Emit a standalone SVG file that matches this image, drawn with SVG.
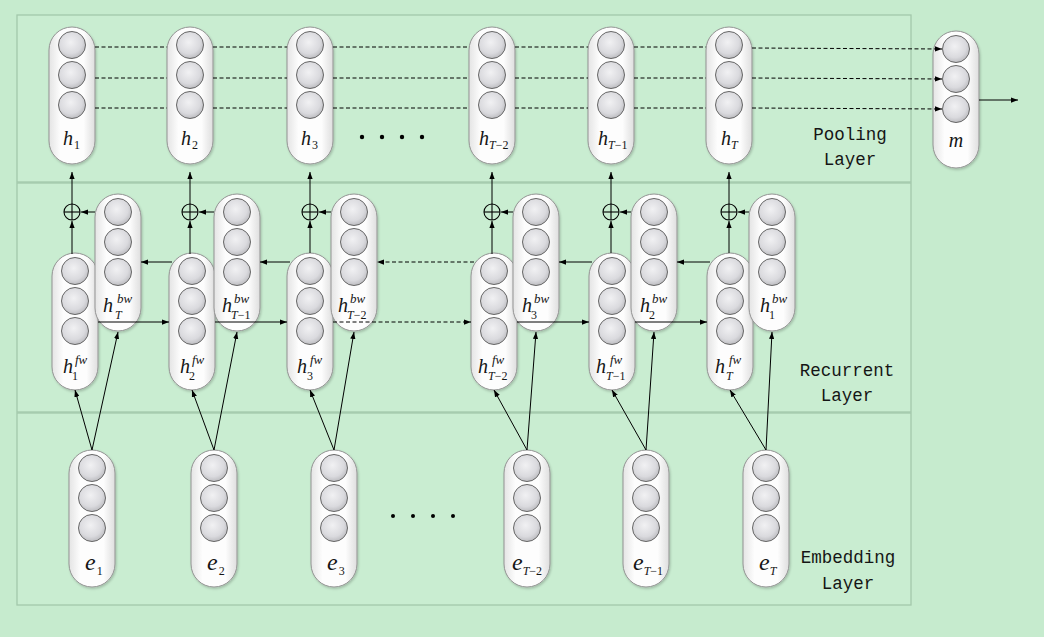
<svg xmlns="http://www.w3.org/2000/svg" width="1044" height="637" viewBox="0 0 1044 637">
<defs>
<style>
.panel{fill:#c9edd1;stroke:#a3c8ab;stroke-width:1.3}
.conn line{stroke:#000;stroke-width:1;fill:none}
.conn .dash{stroke-dasharray:4 2.5}
.arr{marker-end:url(#ah)}
.lab{font-family:"Liberation Serif","Times New Roman",serif;font-style:italic;font-size:20px;fill:#151515}
.sub{font-style:normal;font-size:12px}
.it{font-style:italic}
.sup{font-family:"Liberation Serif","Times New Roman",serif;font-style:italic;font-size:13px;fill:#151515}
.sb{font-family:"Liberation Serif","Times New Roman",serif;font-size:12px;fill:#151515}
.el{font-size:24px}
.layer{font-family:"Liberation Mono","Courier New",monospace;font-size:17.5px;text-anchor:middle;fill:#151515}
.op circle{fill:none;stroke:#000;stroke-width:1.1}
.op line{stroke:#000;stroke-width:1.1}
.dot{fill:#000}
</style>
<linearGradient id="capg" x1="0" y1="0" x2="1" y2="0">
<stop offset="0" stop-color="#e4e4e4"/>
<stop offset="0.25" stop-color="#fdfdfd"/>
<stop offset="0.75" stop-color="#fdfdfd"/>
<stop offset="1" stop-color="#dedede"/>
</linearGradient>
<radialGradient id="ball" cx="0.45" cy="0.4" r="0.6">
<stop offset="0" stop-color="#f1f1f3"/>
<stop offset="0.7" stop-color="#dadade"/>
<stop offset="1" stop-color="#bdbdc1"/>
</radialGradient>
<filter id="sh" x="-20%" y="-10%" width="140%" height="120%">
<feDropShadow dx="1" dy="1.5" stdDeviation="1" flood-color="#000" flood-opacity="0.2"/>
</filter>
<marker id="ah" viewBox="0 0 8 6" refX="8" refY="3" markerWidth="7" markerHeight="5.5" markerUnits="userSpaceOnUse" orient="auto">
<path d="M0,0 L8,3 L0,6 z" fill="#000"/>
</marker>
<g id="cell">
<rect x="-23" y="0" width="46" height="137" rx="23" fill="url(#capg)" stroke="#939393" stroke-width="1" filter="url(#sh)"/>
<circle cx="0" cy="18" r="13.5" fill="url(#ball)" stroke="#666"/>
<circle cx="0" cy="48" r="13.5" fill="url(#ball)" stroke="#666"/>
<circle cx="0" cy="78" r="13.5" fill="url(#ball)" stroke="#666"/>
</g>
</defs>

<rect width="1044" height="637" fill="#c6ebce"/>

<g id="panels">
<rect class="panel" x="17" y="15" width="894" height="167"/>
<rect class="panel" x="17" y="183" width="894" height="229"/>
<rect class="panel" x="17" y="413" width="894" height="192"/>
<text class="layer" x="850" y="140">Pooling</text>
<text class="layer" x="850" y="165">Layer</text>
<text class="layer" x="847" y="376">Recurrent</text>
<text class="layer" x="847" y="401">Layer</text>
<text class="layer" x="848" y="563">Embedding</text>
<text class="layer" x="848" y="589">Layer</text>
</g>

<!-- Pooling layer -->
<g id="pool-h1"><use href="#cell" x="72" y="27"/><text class="lab" x="63" y="145">h<tspan class="sub" dy="4" dx="1">1</tspan></text></g>
<g id="pool-h2"><use href="#cell" x="190" y="27"/><text class="lab" x="181" y="145">h<tspan class="sub" dy="4" dx="1">2</tspan></text></g>
<g id="pool-h3"><use href="#cell" x="310" y="27"/><text class="lab" x="301" y="145">h<tspan class="sub" dy="4" dx="1">3</tspan></text></g>
<g id="pool-hT-2"><use href="#cell" x="492" y="27"/><text class="lab" x="479" y="145">h<tspan class="sub" dy="4"><tspan class="it">T</tspan>−2</tspan></text></g>
<g id="pool-hT-1"><use href="#cell" x="611" y="27"/><text class="lab" x="598" y="145">h<tspan class="sub" dy="4"><tspan class="it">T</tspan>−1</tspan></text></g>
<g id="pool-hT"><use href="#cell" x="729" y="27"/><text class="lab" x="721" y="145">h<tspan class="sub it" dy="4">T</tspan></text></g>
<g id="pool-m"><use href="#cell" x="956" y="31"/><text class="lab" x="956" y="147" font-size="22" text-anchor="middle">m</text></g>
<g id="pool-dots"><circle class="dot" cx="362" cy="137" r="2.2"/><circle class="dot" cx="382" cy="137" r="2.2"/><circle class="dot" cx="402" cy="137" r="2.2"/><circle class="dot" cx="422" cy="137" r="2.2"/></g>

<!-- Recurrent layer: forward cells -->
<g id="fw-1"><use href="#cell" x="75" y="253"/><text class="lab" x="63" y="373">h</text><text class="sup" x="75" y="364">fw</text><text class="sb" x="72" y="380">1</text></g>
<g id="fw-2"><use href="#cell" x="192" y="253"/><text class="lab" x="180" y="373">h</text><text class="sup" x="192" y="364">fw</text><text class="sb" x="189" y="380">2</text></g>
<g id="fw-3"><use href="#cell" x="310" y="253"/><text class="lab" x="297" y="373">h</text><text class="sup" x="310" y="364">fw</text><text class="sb" x="307" y="380">3</text></g>
<g id="fw-T-2"><use href="#cell" x="494" y="253"/><text class="lab" x="478" y="373">h</text><text class="sup" x="492" y="364">fw</text><text class="sb" x="488" y="380"><tspan class="it">T</tspan>−2</text></g>
<g id="fw-T-1"><use href="#cell" x="612" y="253"/><text class="lab" x="596" y="373">h</text><text class="sup" x="610" y="364">fw</text><text class="sb" x="606" y="380"><tspan class="it">T</tspan>−1</text></g>
<g id="fw-T"><use href="#cell" x="730" y="253"/><text class="lab" x="715" y="373">h</text><text class="sup" x="729" y="364">fw</text><text class="sb it" x="726" y="380">T</text></g>

<!-- Recurrent layer: backward cells -->
<g id="bw-T"><use href="#cell" x="118" y="194"/><text class="lab" x="103" y="312">h</text><text class="sup" x="117" y="303">bw</text><text class="sb it" x="115" y="319">T</text></g>
<g id="bw-T-1"><use href="#cell" x="237" y="194"/><text class="lab" x="222" y="312">h</text><text class="sup" x="234" y="303">bw</text><text class="sb" x="231" y="319"><tspan class="it">T</tspan>−1</text></g>
<g id="bw-T-2"><use href="#cell" x="354" y="194"/><text class="lab" x="338" y="312">h</text><text class="sup" x="350" y="303">bw</text><text class="sb" x="347" y="319"><tspan class="it">T</tspan>−2</text></g>
<g id="bw-3"><use href="#cell" x="536" y="194"/><text class="lab" x="522" y="312">h</text><text class="sup" x="534" y="303">bw</text><text class="sb" x="531" y="319">3</text></g>
<g id="bw-2"><use href="#cell" x="654" y="194"/><text class="lab" x="640" y="312">h</text><text class="sup" x="652" y="303">bw</text><text class="sb" x="649" y="319">2</text></g>
<g id="bw-1"><use href="#cell" x="772" y="194"/><text class="lab" x="760" y="312">h</text><text class="sup" x="772" y="303">bw</text><text class="sb" x="769" y="319">1</text></g>

<!-- Sum operators -->
<g id="op-1" class="op"><circle cx="72" cy="212" r="8"/><line x1="64" y1="212" x2="80" y2="212"/><line x1="72" y1="204" x2="72" y2="220"/></g>
<g id="op-2" class="op"><circle cx="190" cy="212" r="8"/><line x1="182" y1="212" x2="198" y2="212"/><line x1="190" y1="204" x2="190" y2="220"/></g>
<g id="op-3" class="op"><circle cx="310" cy="212" r="8"/><line x1="302" y1="212" x2="318" y2="212"/><line x1="310" y1="204" x2="310" y2="220"/></g>
<g id="op-T-2" class="op"><circle cx="492" cy="212" r="8"/><line x1="484" y1="212" x2="500" y2="212"/><line x1="492" y1="204" x2="492" y2="220"/></g>
<g id="op-T-1" class="op"><circle cx="611" cy="212" r="8"/><line x1="603" y1="212" x2="619" y2="212"/><line x1="611" y1="204" x2="611" y2="220"/></g>
<g id="op-T" class="op"><circle cx="729" cy="212" r="8"/><line x1="721" y1="212" x2="737" y2="212"/><line x1="729" y1="204" x2="729" y2="220"/></g>

<!-- Embedding layer -->
<g id="emb-1"><use href="#cell" x="92" y="450"/><text class="lab el" x="85" y="570">e<tspan class="sub" dy="5" dx="1" font-size="13">1</tspan></text></g>
<g id="emb-2"><use href="#cell" x="214" y="450"/><text class="lab el" x="207" y="570">e<tspan class="sub" dy="5" dx="1" font-size="13">2</tspan></text></g>
<g id="emb-3"><use href="#cell" x="334" y="450"/><text class="lab el" x="327" y="570">e<tspan class="sub" dy="5" dx="1" font-size="13">3</tspan></text></g>
<g id="emb-T-2"><use href="#cell" x="527" y="450"/><text class="lab el" x="512" y="570">e<tspan class="sub" dy="5" font-size="13"><tspan class="it">T</tspan>−2</tspan></text></g>
<g id="emb-T-1"><use href="#cell" x="646" y="450"/><text class="lab el" x="633" y="570">e<tspan class="sub" dy="5" font-size="13"><tspan class="it">T</tspan>−1</tspan></text></g>
<g id="emb-T"><use href="#cell" x="766" y="450"/><text class="lab el" x="759" y="570">e<tspan class="sub it" dy="5" font-size="13">T</tspan></text></g>
<g id="emb-dots"><circle class="dot" cx="393" cy="516" r="2"/><circle class="dot" cx="413" cy="516" r="2"/><circle class="dot" cx="433" cy="516" r="2"/><circle class="dot" cx="453" cy="516" r="2"/></g>

<g id="connectors" class="conn">
<!-- pooling dashed lines -->
<line class="dash" x1="95" y1="47" x2="167" y2="47"/><line class="dash" x1="213" y1="47" x2="287" y2="47"/><line class="dash" x1="333" y1="47" x2="469" y2="47"/><line class="dash" x1="515" y1="47" x2="588" y2="47"/><line class="dash" x1="634" y1="47" x2="706" y2="47"/><line class="dash arr" x1="752" y1="48" x2="942" y2="49"/>
<line class="dash" x1="95" y1="78" x2="167" y2="78"/><line class="dash" x1="213" y1="78" x2="287" y2="78"/><line class="dash" x1="333" y1="78" x2="469" y2="78"/><line class="dash" x1="515" y1="78" x2="588" y2="78"/><line class="dash" x1="634" y1="78" x2="706" y2="78"/><line class="dash arr" x1="752" y1="78" x2="942" y2="79"/>
<line class="dash" x1="95" y1="108" x2="167" y2="108"/><line class="dash" x1="213" y1="108" x2="287" y2="108"/><line class="dash" x1="333" y1="108" x2="469" y2="108"/><line class="dash" x1="515" y1="108" x2="588" y2="108"/><line class="dash" x1="634" y1="108" x2="706" y2="108"/><line class="dash arr" x1="752" y1="108" x2="942" y2="109"/>
<line class="arr" x1="979" y1="100" x2="1018" y2="100"/>
<!-- operator to pooling -->
<line class="arr" x1="72" y1="204" x2="72" y2="172"/><line class="arr" x1="190" y1="204" x2="190" y2="172"/><line class="arr" x1="310" y1="204" x2="310" y2="172"/><line class="arr" x1="492" y1="204" x2="492" y2="172"/><line class="arr" x1="611" y1="204" x2="611" y2="172"/><line class="arr" x1="729" y1="204" x2="729" y2="172"/>
<!-- forward cell to operator -->
<line class="arr" x1="72" y1="254" x2="72" y2="221"/><line class="arr" x1="190" y1="254" x2="190" y2="221"/><line class="arr" x1="310" y1="253" x2="310" y2="221"/><line class="arr" x1="492" y1="254" x2="492" y2="221"/><line class="arr" x1="611" y1="253" x2="611" y2="221"/><line class="arr" x1="729" y1="253" x2="729" y2="221"/>
<!-- backward cell to operator -->
<line class="arr" x1="95" y1="212" x2="81" y2="212"/><line class="arr" x1="214" y1="212" x2="199" y2="212"/><line class="arr" x1="331" y1="212" x2="319" y2="212"/><line class="arr" x1="513" y1="212" x2="501" y2="212"/><line class="arr" x1="631" y1="212" x2="620" y2="212"/><line class="arr" x1="749" y1="212" x2="738" y2="212"/>
<!-- forward recurrence -->
<line class="arr" x1="98" y1="322" x2="169" y2="322"/><line class="arr" x1="215" y1="322" x2="287" y2="322"/><line class="dash arr" x1="333" y1="322" x2="471" y2="322"/><line class="arr" x1="517" y1="322" x2="589" y2="322"/><line class="arr" x1="635" y1="322" x2="707" y2="322"/>
<!-- backward recurrence -->
<line class="arr" x1="172" y1="262" x2="141" y2="262"/><line class="arr" x1="290" y1="262" x2="260" y2="262"/><line class="dash arr" x1="474" y1="262" x2="377" y2="262"/><line class="arr" x1="592" y1="262" x2="559" y2="262"/><line class="arr" x1="710" y1="262" x2="677" y2="262"/>
<!-- embedding to recurrent -->
<line class="arr" x1="92" y1="450" x2="75" y2="390"/><line class="arr" x1="92" y1="450" x2="118" y2="332"/>
<line class="arr" x1="214" y1="450" x2="192" y2="390"/><line class="arr" x1="214" y1="450" x2="237" y2="332"/>
<line class="arr" x1="334" y1="450" x2="310" y2="390"/><line class="arr" x1="334" y1="450" x2="354" y2="332"/>
<line class="arr" x1="527" y1="450" x2="494" y2="390"/><line class="arr" x1="527" y1="450" x2="536" y2="332"/>
<line class="arr" x1="646" y1="450" x2="612" y2="390"/><line class="arr" x1="646" y1="450" x2="654" y2="332"/>
<line class="arr" x1="766" y1="450" x2="730" y2="390"/><line class="arr" x1="766" y1="450" x2="772" y2="332"/>
</g>
</svg>
